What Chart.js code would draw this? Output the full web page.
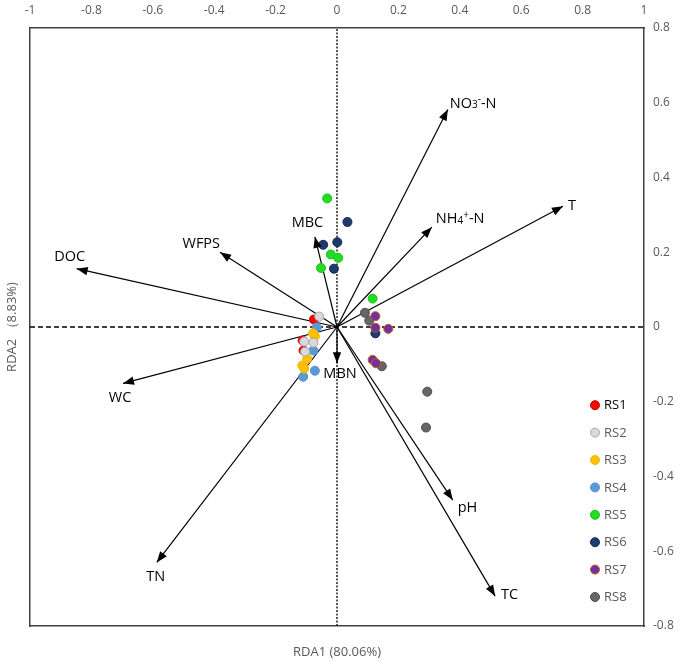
<!DOCTYPE html>
<html><head><meta charset="utf-8">
<script src="https://cdn.jsdelivr.net/npm/chart.js@4.4.1/dist/chart.umd.min.js"></script>
<style>html,body{margin:0;padding:0;background:#fff}#wrap{width:680px;height:662px;position:relative}</style>
</head><body><div id="wrap"><canvas id="c"></canvas></div>
<script>
// ---------- data ----------
const groups = ['RS1','RS2','RS3','RS4','RS5','RS6','RS7','RS8'];
const rs1 = [[-0.075,0.020],[-0.112,-0.036],[-0.109,-0.063]];
const rs2 = [[-0.058,0.028],[-0.077,-0.042],[-0.107,-0.039],[-0.104,-0.066]];
const rs3 = [[-0.072,-0.025],[-0.078,-0.017],[-0.097,-0.085],[-0.113,-0.103],[-0.107,-0.111]];
const rs4 = [[-0.066,-0.001],[-0.077,-0.063],[-0.072,-0.117],[-0.110,-0.133]];
const rs5 = [[-0.032,0.344],[-0.020,0.194],[0.004,0.185],[-0.052,0.158],[0.116,0.076]];
const rs6 = [[0.034,0.281],[-0.045,0.220],[0.001,0.227],[-0.010,0.156],[0.125,-0.017]];
const rs7 = [[0.125,0.029],[0.125,-0.002],[0.167,-0.005],[0.116,-0.088],[0.127,-0.097]];
const rs8 = [[0.091,0.038],[0.105,0.017],[0.146,-0.105],[0.294,-0.173],[0.290,-0.269]];
const siteScores = [rs1,rs2,rs3,rs4,rs5,rs6,rs7,rs8];

const envNames = ['NO₃⁻-N','T','NH₄⁺-N','MBC','WFPS','DOC','WC','TN','MBN','pH','TC'];
const envX = [0.361, 0.736, 0.309, -0.072, -0.381, -0.848, -0.697, -0.587, 0.000, 0.377, 0.515];
const envY = [0.582, 0.323, 0.267, 0.241, 0.200, 0.156, -0.151, -0.630, -0.097, -0.463, -0.720];

const xRange = [-1, 1];
const yRange = [-0.8, 0.8];
const tickStep = 0.2;
const xTitle = 'RDA1 (80.06%)';
const yTitle = 'RDA2 （8.83%)';

// ---------- styles ----------
const FAM = '"Open Sans", "Noto Sans", sans-serif';
const fills   = ['#FF0000','#D9D9D9','#FFC000','#5B9BD5','#22DD22','#1F3A6E','#7030A0','#666666'];
const strokes = ['#C00000','#A6A6A6','#F0B400','#5590CC','#1CC01C','#14284F','#C55A11','#4D4D4D'];
const drawOrder = [9,6,7,8,5,5,3,4];
const legendTextColors = ['#000000','#595959','#595959','#595959','#595959','#595959','#595959','#595959'];
const labelPlacement = {
  'NO₃⁻-N': {dx:2, dy:-6, align:'left'},
  'T':      {dx:5, dy:0, align:'left'},
  'NH₄⁺-N': {dx:4, dy:-8, align:'left'},
  'MBC':    {dx:-7.5, dy:-14, align:'center'},
  'WFPS':   {dx:0, dy:-8, align:'right'},
  'DOC':    {dx:-7, dy:-12, align:'center'},
  'WC':     {dx:-3, dy:14, align:'center'},
  'TN':     {dx:-1, dy:14, align:'center'},
  'MBN':    {dx:3, dy:11, align:'center'},
  'pH':     {dx:5, dy:8, align:'left'},
  'TC':     {dx:6, dy:-1, align:'left'}
};

Chart.defaults.font.family = FAM;

const SUBS = {'₃':'3','₄':'4'}, SUPS = {'⁻':'-','⁺':'+'};
function drawRich(ctx, text, x, y, align) {
  const base = 14.5, small = 10;
  const parts = [];
  for (const ch of text) {
    let kind = 0, c = ch;
    if (SUBS[ch]) { kind = 1; c = SUBS[ch]; } else if (SUPS[ch]) { kind = 2; c = SUPS[ch]; }
    const last = parts[parts.length - 1];
    if (last && last.kind === kind) last.t += c; else parts.push({t: c, kind});
  }
  let total = 0;
  parts.forEach(p => { ctx.font = (p.kind ? small : base) + 'px ' + FAM; p.w = ctx.measureText(p.t).width; total += p.w; });
  let sx = align === 'left' ? x : (align === 'right' ? x - total : x - total / 2);
  ctx.textBaseline = 'middle'; ctx.textAlign = 'left'; ctx.fillStyle = '#000';
  parts.forEach(p => {
    ctx.font = (p.kind ? small : base) + 'px ' + FAM;
    const dy = p.kind === 1 ? 2 : (p.kind === 2 ? -4 : 0);
    ctx.fillText(p.t, sx, y + dy);
    sx += p.w;
  });
}

const arrowPlugin = {
  id: 'arrowHeads',
  afterDatasetsDraw(chart) {
    const ctx = chart.ctx;
    chart.data.datasets.forEach((ds, i) => {
      if (!ds.isArrow) return;
      const meta = chart.getDatasetMeta(i);
      const p0 = meta.data[0], p1 = meta.data[1];
      const a = Math.atan2(p1.y - p0.y, p1.x - p0.x);
      const L = 11, W = 4.2;
      const bx = p1.x - L * Math.cos(a), by = p1.y - L * Math.sin(a);
      ctx.save();
      ctx.fillStyle = '#000';
      ctx.beginPath();
      ctx.moveTo(p1.x, p1.y);
      ctx.lineTo(bx + W * Math.sin(a), by - W * Math.cos(a));
      ctx.lineTo(bx - W * Math.sin(a), by + W * Math.cos(a));
      ctx.closePath();
      ctx.fill();
      const lp = labelPlacement[ds.label];
      drawRich(ctx, ds.label, p1.x + lp.dx, p1.y + lp.dy, lp.align);
      ctx.restore();
    });
  }
};

const legendPlugin = {
  id: 'insideLegend',
  afterDraw(chart) {
    const ctx = chart.ctx;
    const {right, bottom} = chart.chartArea;
    const items = chart.data.datasets.filter(d => d.isGroup);
    ctx.save();
    items.forEach((ds, k) => {
      const y = bottom - 29 - (items.length - 1 - k) * 27.4;
      const x = right - 49;
      ctx.beginPath();
      ctx.arc(x, y, 4.5, 0, Math.PI * 2);
      ctx.fillStyle = ds.backgroundColor; ctx.fill();
      ctx.lineWidth = 1; ctx.strokeStyle = ds.borderColor; ctx.stroke();
      ctx.font = '13px ' + FAM;
      ctx.fillStyle = legendTextColors[k];
      ctx.textAlign = 'left'; ctx.textBaseline = 'middle';
      ctx.fillText(ds.label, x + 9, y + 0.5);
    });
    ctx.restore();
  }
};

const datasets = [];
// reference zero lines
datasets.push({label:'h0', data:[{x:xRange[0],y:0},{x:xRange[1],y:0}], showLine:true, pointRadius:0,
  borderColor:'#000', borderWidth:1.3, borderDash:[5,3], order:40, xAxisID:'x', yAxisID:'y'});
datasets.push({label:'v0', data:[{x:0,y:yRange[0]},{x:0,y:yRange[1]}], showLine:true, pointRadius:0,
  borderColor:'#222', borderWidth:1.5, borderDash:[2,1.5], order:40, xAxisID:'x', yAxisID:'y'});
// environmental arrows
envNames.forEach((n, i) => {
  datasets.push({label:n, isArrow:true, data:[{x:0,y:0},{x:envX[i],y:envY[i]}], showLine:true, pointRadius:0,
    borderColor:'#000', borderWidth:1.2, order:30, xAxisID:'x', yAxisID:'y'});
});
// site scores
groups.forEach((g, i) => {
  datasets.push({label:g, isGroup:true, data:siteScores[i].map(p => ({x:p[0], y:p[1]})),
    backgroundColor:fills[i], borderColor:strokes[i], pointRadius:4.5, pointBorderWidth:1,
    order:drawOrder[i], xAxisID:'x', yAxisID:'y'});
});

const fmt = v => { const r = Math.round(v * 10) / 10; return r === 0 ? '0' : String(r); };
const borderOpt = {display:true, color:'#404040', width:1.5};

new Chart(document.getElementById('c'), {
  type: 'scatter',
  data: {datasets},
  options: {
    responsive: true, maintainAspectRatio: false, animation: false, events: [],
    layout: {padding: 0},
    plugins: {legend: {display:false}, tooltip: {enabled:false}},
    scales: {
      x: {type:'linear', position:'top', min:xRange[0], max:xRange[1],
        ticks:{stepSize:tickStep, padding:10, color:'#595959', font:{size:12}, callback:fmt, autoSkip:false, maxRotation:0},
        grid:{display:false, drawTicks:false}, border:borderOpt, afterFit(s){ s.height = 28; }},
      x2: {type:'linear', position:'bottom', min:xRange[0], max:xRange[1],
        ticks:{display:false}, grid:{display:false, drawTicks:false}, border:borderOpt,
        title:{display:true, text:xTitle, color:'#595959', font:{size:13}, padding:{top:0, bottom:2}},
        afterFit(s){ s.height = 36; }},
      y: {type:'linear', position:'right', min:yRange[0], max:yRange[1],
        ticks:{stepSize:tickStep, padding:9, color:'#595959', font:{size:12}, callback:fmt, autoSkip:false},
        grid:{display:false, drawTicks:false}, border:borderOpt, afterFit(s){ s.width = 36; }},
      y2: {type:'linear', position:'left', min:yRange[0], max:yRange[1],
        ticks:{display:false}, grid:{display:false, drawTicks:false}, border:borderOpt,
        title:{display:true, text:yTitle, color:'#595959', font:{size:13}, padding:{top:4, bottom:0}},
        afterFit(s){ s.width = 30; }}
    }
  },
  plugins: [arrowPlugin, legendPlugin]
});
</script></body></html>
